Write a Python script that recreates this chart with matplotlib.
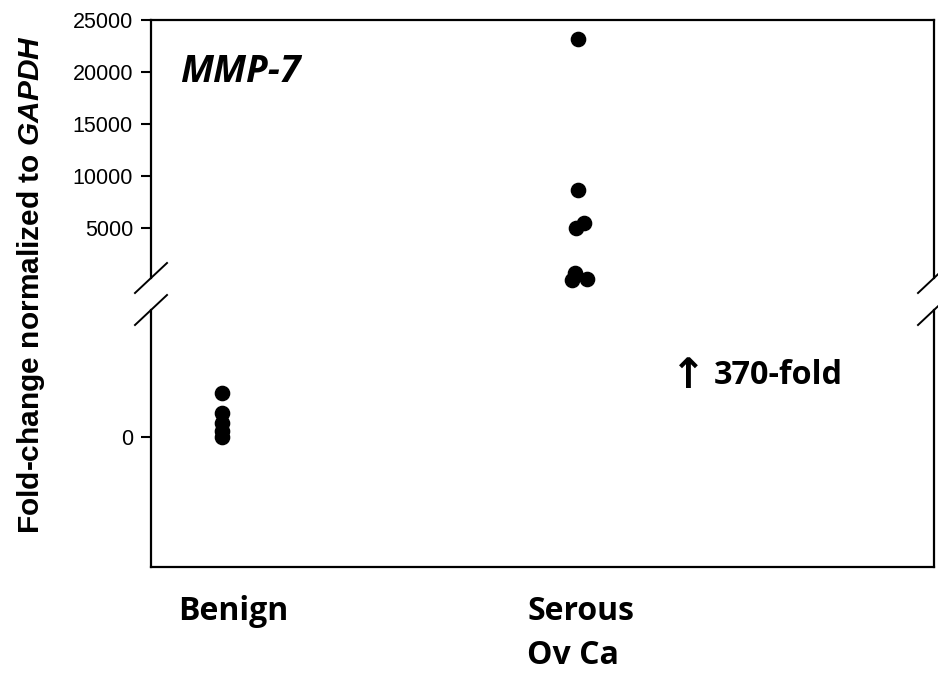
import matplotlib
matplotlib.use("Agg")
import matplotlib.pyplot as plt

# ---- data ----
groups = ["Benign", "Serous\nOv Ca"]

benign_x = [1.0, 1.0, 1.0, 1.0, 1.0]
benign_y = [1.73, 0.94, 0.55, 0.24, 0.0]

serous_x = [5.0, 5.0, 4.98, 5.07, 4.97, 4.93, 5.10]
serous_y = [23200, 8650, 5000, 5450, 650, 0, 100]

upper_ticks = [5000, 10000, 15000, 20000, 25000]
lower_ticks = [0]

plt.rcParams["mathtext.fontset"] = "custom"
plt.rcParams["mathtext.it"] = "Liberation Sans:italic:bold"
plt.rcParams["mathtext.rm"] = "Liberation Sans:bold"

W, H = 938, 673
fig = plt.figure(figsize=(W / 100, H / 100), dpi=100)

left, right = 151 / W, 934 / W
ax_top = fig.add_axes([left, 1 - 278 / H, right - left, (278 - 20) / H])
ax_bot = fig.add_axes([left, 1 - 567 / H, right - left, (567 - 310) / H])

for ax in (ax_top, ax_bot):
    ax.set_xlim(0.2, 9.0)
    for s in ax.spines.values():
        s.set_linewidth(1.6)
        s.set_color("black")
    ax.tick_params(axis="y", direction="out", length=7, width=1.5, pad=6)
    ax.tick_params(axis="x", bottom=False, top=False, labelbottom=False)

ax_top.spines["bottom"].set_visible(False)
ax_bot.spines["top"].set_visible(False)

ax_top.set_ylim(200, 25000)
ax_top.set_yticks(upper_ticks)
ax_bot.set_ylim(-5.1, 5.0)
ax_bot.set_yticks(lower_ticks)
for ax in (ax_top, ax_bot):
    for lab in ax.get_yticklabels():
        lab.set_family("Liberation Sans")
        lab.set_fontsize(15.5)

ax_bot.scatter(benign_x, benign_y, s=105, color="black", zorder=5, clip_on=False)
ax_top.scatter(serous_x, serous_y, s=105, color="black", zorder=5, clip_on=False)

# break marks on both spines
d = 16 / W
dy = 15 / H
for yb in (1 - 278 / H, 1 - 310 / H):
    for xb in (left, right):
        fig.add_artist(plt.Line2D([xb - d, xb + d], [yb - dy, yb + dy],
                                  color="black", lw=1.4))

# texts
fig.text(180 / W, 1 - 72 / H, "MMP-7", fontsize=27, fontweight="bold",
         style="italic", family="Open Sans", va="center", ha="left")
fig.text(671 / W, 1 - 376 / H, "\u2191", fontsize=30, fontweight="bold",
         family="DejaVu Sans", va="center", ha="left")
fig.text(714 / W, 1 - 375 / H, "370-fold", fontsize=23.3, fontweight="bold",
         family="Open Sans", va="center", ha="left")

fig.text(178 / W, 1 - 612 / H, groups[0], fontsize=23, fontweight="bold",
         family="Open Sans", va="center", ha="left")
for i, line in enumerate(groups[1].split("\n")):
    fig.text(527 / W, 1 - (612 + 44 * i) / H, line, fontsize=23, fontweight="bold",
             family="Open Sans", va="center", ha="left")

fig.text(31 / W, 1 - 285 / H, r"Fold-change normalized to $\mathit{GAPDH}$",
         rotation=90, fontsize=21.5, fontweight="bold", family="Liberation Sans",
         va="center", ha="center")

fig.savefig("out.png", dpi=100)
